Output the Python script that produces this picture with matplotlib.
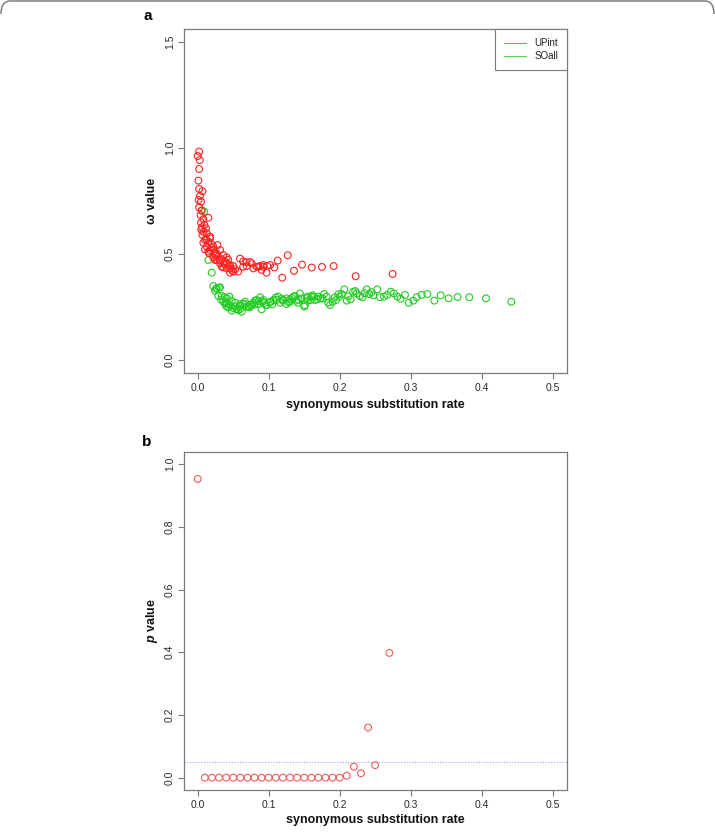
import matplotlib
matplotlib.use("Agg")
import matplotlib.pyplot as plt
from matplotlib.path import Path
from matplotlib.patches import PathPatch
from matplotlib.lines import Line2D

plt.rcParams['font.family'] = ['Liberation Sans', 'DejaVu Sans']
plt.rcParams['mathtext.fontset'] = 'custom'
plt.rcParams['mathtext.bfit'] = 'Liberation Sans:italic:bold'
plt.rcParams['mathtext.rm'] = 'Liberation Sans'

# ---------------- data: panel a ----------------
upint_x = [0.002, 0.000, 0.003, 0.002, 0.001, 0.002, 0.0066, 0.0033, 0.0014, 0.0047,
           0.002, 0.0056, 0.004, 0.015, 0.008, 0.0047, 0.0094, 0.006, 0.0117, 0.008,
           0.0127, 0.0066, 0.0174, 0.0103, 0.015, 0.008, 0.0197, 0.0127, 0.028, 0.0174,
           0.022, 0.0103, 0.0315, 0.0244, 0.016, 0.036, 0.029, 0.022, 0.0408, 0.034,
           0.027, 0.043, 0.0385, 0.0315, 0.0455, 0.050, 0.036, 0.041, 0.0455, 0.0526,
           0.0455, 0.057, 0.0596, 0.064, 0.069, 0.0737, 0.064, 0.0784, 0.083, 0.076,
           0.088, 0.0925, 0.098, 0.097, 0.102, 0.108, 0.1127, 0.1268, 0.119, 0.1357,
           0.147, 0.1606, 0.175, 0.1915, 0.2225, 0.2746,
           0.0174, 0.022, 0.015, 0.0268, 0.0244, 0.041, 0.034, 0.050, 0.069, 0.0855,
           0.090, 0.0925, 0.005, 0.012, 0.019, 0.025, 0.031, 0.038, 0.044, 0.048]
upint_y = [0.983, 0.962, 0.943, 0.901, 0.846, 0.807, 0.796, 0.774, 0.755, 0.747,
           0.720, 0.704, 0.684, 0.671, 0.664, 0.648, 0.637, 0.626, 0.621, 0.605,
           0.597, 0.590, 0.574, 0.566, 0.558, 0.553, 0.547, 0.535, 0.542, 0.519,
           0.522, 0.522, 0.519, 0.503, 0.503, 0.495, 0.487, 0.483, 0.484, 0.475,
           0.472, 0.472, 0.464, 0.456, 0.448, 0.443, 0.437, 0.432, 0.432, 0.428,
           0.412, 0.417, 0.478, 0.465, 0.461, 0.462, 0.440, 0.432, 0.440, 0.456,
           0.443, 0.440, 0.443, 0.412, 0.448, 0.437, 0.469, 0.494, 0.388, 0.421,
           0.450, 0.436, 0.439, 0.443, 0.395, 0.406,
           0.582, 0.535, 0.511, 0.503, 0.472, 0.456, 0.440, 0.417, 0.443, 0.440,
           0.425, 0.448, 0.615, 0.570, 0.530, 0.492, 0.470, 0.452, 0.445, 0.425]

soall_x = [0.0056, 0.009, 0.015, 0.0197, 0.022, 0.0258, 0.030, 0.0244, 0.029, 0.0338,
           0.038, 0.0446, 0.036, 0.0408, 0.0479, 0.0526, 0.0432, 0.0479, 0.055, 0.0596,
           0.064, 0.069, 0.0737, 0.078, 0.083, 0.088, 0.0915, 0.090, 0.0962, 0.102,
           0.1066, 0.1136, 0.116, 0.1207, 0.125, 0.130, 0.1347, 0.139, 0.144, 0.1465,
           0.151, 0.1545, 0.159, 0.164, 0.1685, 0.173, 0.178, 0.1817, 0.1864, 0.190,
           0.195, 0.1995, 0.203, 0.2066, 0.210, 0.2155, 0.219, 0.224, 0.2286, 0.2324,
           0.238, 0.2418, 0.2474, 0.253, 0.2568, 0.2624, 0.267, 0.272, 0.2765, 0.2812,
           0.2859, 0.292, 0.2972, 0.3038, 0.3085, 0.3155, 0.3235, 0.3333, 0.3423, 0.3535,
           0.3662, 0.3826, 0.4061, 0.4418,
           0.0268, 0.0315, 0.041, 0.0385, 0.0455, 0.0526, 0.057, 0.062, 0.0596, 0.0667,
           0.0714, 0.076, 0.0808, 0.0855, 0.0925, 0.097, 0.102, 0.111, 0.120, 0.125,
           0.130, 0.137, 0.142, 0.150, 0.1535, 0.160, 0.165, 0.170,
           0.033, 0.040, 0.050, 0.060, 0.066, 0.073, 0.080, 0.086, 0.094, 0.105,
           0.110, 0.118, 0.128, 0.133, 0.141, 0.155, 0.162, 0.176, 0.184, 0.193,
           0.198, 0.212, 0.222, 0.235, 0.245]
soall_y = [0.706, 0.700, 0.472, 0.412, 0.349, 0.336, 0.341, 0.327, 0.302, 0.302,
           0.296, 0.299, 0.275, 0.267, 0.280, 0.270, 0.248, 0.233, 0.239, 0.255,
           0.264, 0.252, 0.259, 0.270, 0.283, 0.296, 0.275, 0.239, 0.259, 0.270,
           0.283, 0.299, 0.270, 0.283, 0.264, 0.286, 0.299, 0.280, 0.314, 0.291,
           0.259, 0.299, 0.283, 0.299, 0.286, 0.291, 0.311, 0.299, 0.259, 0.275,
           0.283, 0.299, 0.311, 0.333, 0.280, 0.286, 0.322, 0.314, 0.302, 0.296,
           0.333, 0.311, 0.305, 0.333, 0.296, 0.299, 0.307, 0.322, 0.314, 0.299,
           0.289, 0.307, 0.270, 0.280, 0.296, 0.307, 0.311, 0.280, 0.305, 0.291,
           0.297, 0.296, 0.291, 0.275,
           0.338, 0.343, 0.291, 0.267, 0.259, 0.252, 0.236, 0.228, 0.264, 0.275,
           0.252, 0.259, 0.280, 0.264, 0.283, 0.259, 0.275, 0.283, 0.280, 0.291,
           0.275, 0.302, 0.283, 0.252, 0.291, 0.299, 0.283, 0.299,
           0.285, 0.255, 0.245, 0.240, 0.265, 0.248, 0.262, 0.278, 0.268, 0.262,
           0.295, 0.288, 0.272, 0.292, 0.270, 0.280, 0.305, 0.290, 0.270, 0.295,
           0.310, 0.300, 0.325, 0.315, 0.320]

series_labels = ["UPint", "SOall"]

# ---------------- data: panel b ----------------
pval_x = [0.00, 0.01, 0.02, 0.03, 0.04, 0.05, 0.06, 0.07, 0.08, 0.09, 0.10,
          0.11, 0.12, 0.13, 0.14, 0.15, 0.16, 0.17, 0.18, 0.19, 0.20,
          0.21, 0.22, 0.23, 0.24, 0.25, 0.27]
pval_y = [0.953, 0.0, 0.0, 0.0, 0.0, 0.0, 0.0, 0.0, 0.0, 0.0, 0.0,
          0.0, 0.0, 0.0, 0.0, 0.0, 0.0, 0.0, 0.0, 0.0, 0.0,
          0.006, 0.035, 0.014, 0.160, 0.040, 0.398]
p_threshold = 0.05

a_xticks = [0.0, 0.1, 0.2, 0.3, 0.4, 0.5]
a_yticks = [0.0, 0.5, 1.0, 1.5]
b_yticks = [0.0, 0.2, 0.4, 0.6, 0.8, 1.0]

# ---------------- figure ----------------
W, H = 715, 833
fig = plt.figure(figsize=(W / 100, H / 100), dpi=100)

RED = '#ff2020'
GREEN = '#22cc22'
RED_B = '#f05a5a'
GRAY = '#7a7a7a'

def style_axes(ax, yticks):
    for s in ax.spines.values():
        s.set_color(GRAY)
        s.set_linewidth(0.9)
    ax.set_xticks(a_xticks)
    ax.set_xticklabels([f"{v:.1f}" for v in a_xticks])
    ax.set_yticks(yticks)
    ax.set_yticklabels([f"{v:.1f}" for v in yticks], rotation=90, va='center')
    ax.tick_params(direction='out', length=4.2, width=0.8, color=GRAY,
                   labelsize=7.5, labelcolor='#2a2a2a')
    ax.tick_params(axis='x', pad=3.2)
    ax.tick_params(axis='y', pad=2.0)

# panel a
axa = fig.add_axes([183.5 / W, 1 - 372.7 / H, (566.8 - 183.5) / W, (372.7 - 29.3) / H])
axa.scatter(upint_x, upint_y, s=24, facecolors='none', edgecolors=RED, linewidths=0.8, zorder=3)
axa.scatter(soall_x, soall_y, s=24, facecolors='none', edgecolors=GREEN, linewidths=0.8, zorder=2)
axa.set_xlim(-0.02, 0.52)
axa.set_ylim(-0.06, 1.56)
style_axes(axa, a_yticks)
axa.set_xlabel("synonymous substitution rate", fontsize=9, fontweight='bold', color='#111111')
axa.xaxis.set_label_coords(0.5, -32 / 343.4)
axa.xaxis.label.set_va('center')
axa.set_ylabel("ω value", fontsize=9, fontweight='bold', color='#111111')
axa.yaxis.set_label_coords(-31.5 / 383.3, 0.5)
axa.yaxis.label.set_va('center')
handles = [Line2D([], [], color='#f07070', lw=0.8), Line2D([], [], color='#55d855', lw=0.8)]
leg = axa.legend(handles, series_labels, loc='upper right', borderaxespad=0,
                 fancybox=False, framealpha=1, edgecolor=GRAY, fontsize=7,
                 handlelength=2.2, handletextpad=0.9, borderpad=0.9, labelspacing=0.35)
leg.get_frame().set_linewidth(0.8)
for t in leg.get_texts():
    t.set_color('#222222')

# panel b
axb = fig.add_axes([183.5 / W, 1 - 790.2 / H, (566.8 - 183.5) / W, (790.2 - 451.7) / H])
axb.scatter(pval_x, pval_y, s=24, facecolors='none', edgecolors=RED_B, linewidths=0.8, zorder=3)
axb.axhline(p_threshold, color='#9a9aff', lw=0.8, ls=(0, (1, 1.5)), zorder=2)
axb.set_xlim(-0.02, 0.52)
axb.set_ylim(-0.04, 1.04)
style_axes(axb, b_yticks)
axb.set_xlabel("synonymous substitution rate", fontsize=9, fontweight='bold', color='#111111')
axb.xaxis.set_label_coords(0.5, -30 / 338.5)
axb.xaxis.label.set_va('center')
axb.set_ylabel(r"$\mathbfit{p}$ value", fontsize=9, fontweight='bold', color='#111111')
axb.yaxis.set_label_coords(-31.5 / 383.3, 0.5)
axb.yaxis.label.set_va('center')

# panel letters
fig.text(148 / W, 1 - 16 / H, "a", fontsize=11, fontweight='bold', ha='center', va='center')
fig.text(147 / W, 1 - 442 / H, "b", fontsize=11, fontweight='bold', ha='center', va='center')

# thin rounded frame top edge
r = 10
verts = [(1 / W, 1 - 14 / H), (1 / W, 1 - 1 / H), (r / W, 1 - 1 / H),
         ((W - r) / W, 1 - 1 / H), ((W - 1) / W, 1 - 1 / H), ((W - 1) / W, 1 - 14 / H)]
codes = [Path.MOVETO, Path.CURVE3, Path.CURVE3, Path.LINETO, Path.CURVE3, Path.CURVE3]
fig.add_artist(PathPatch(Path(verts, codes), transform=fig.transFigure,
                         fill=False, edgecolor='#888888', lw=1.2))

fig.savefig("out.png", dpi=100)
